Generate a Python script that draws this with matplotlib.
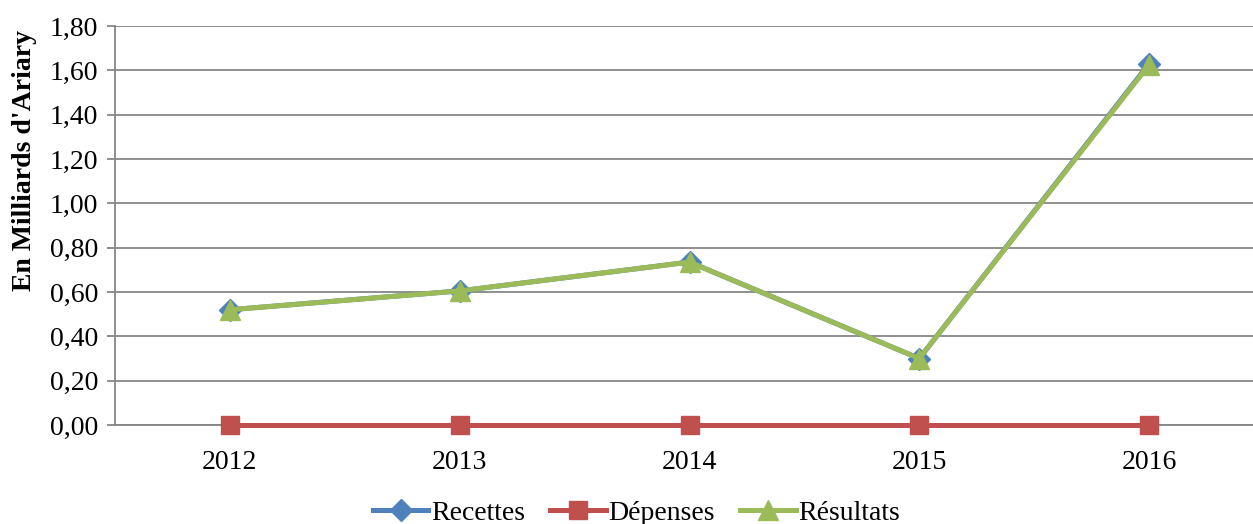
import matplotlib
matplotlib.use("Agg")
import matplotlib.pyplot as plt
from matplotlib.ticker import FuncFormatter

years = ["2012", "2013", "2014", "2015", "2016"]
recettes = [0.52, 0.605, 0.735, 0.30, 1.63]
depenses = [0.0, 0.0, 0.0, 0.0, 0.0]
resultats = [0.52, 0.605, 0.735, 0.30, 1.625]
yticks = [0.0, 0.2, 0.4, 0.6, 0.8, 1.0, 1.2, 1.4, 1.6, 1.8]

plt.rcParams['font.family'] = ['Liberation Serif', 'DejaVu Serif']

fig = plt.figure(figsize=(12.53, 5.24), dpi=100)
ax = fig.add_axes([115/1253, 99/524, 1149/1253, 399/524])

x = list(range(len(years)))
grey = '#868686'
ax.plot(x, recettes, color='#4F81BD', lw=3.6, marker='D', ms=11, label='Recettes', zorder=3, clip_on=False)
ax.plot(x, depenses, color='#C0504D', lw=3.6, marker='s', ms=13, label='Dépenses', zorder=4, clip_on=False)
ax.plot(x, resultats, color='#9BBB59', lw=3.6, marker='^', ms=15, label='Résultats', zorder=5, clip_on=False)

ax.set_xlim(-0.5, 4.5)
ax.set_ylim(0, 1.8)
ax.set_yticks(yticks)
ax.yaxis.set_major_formatter(FuncFormatter(lambda v, p: f"{v:.2f}".replace('.', ',')))
ax.set_xticks(x)
ax.set_xticklabels(years)
ax.grid(axis='y', color=grey, lw=1.3)
ax.set_axisbelow(True)
for s in ['top', 'right']:
    ax.spines[s].set_visible(False)
ax.spines['left'].set_color(grey)
ax.spines['left'].set_linewidth(1.3)
ax.spines['bottom'].set_color(grey)
ax.spines['bottom'].set_linewidth(1.3)
ax.tick_params(axis='y', length=6, width=1.3, color=grey, labelsize=20, pad=6)
ax.tick_params(axis='x', length=0, labelsize=20, pad=18)
ax.set_ylabel("En Milliards d'Ariary", fontsize=20, fontweight='bold')
ax.yaxis.set_label_coords(-0.068, 0.664)

leg = fig.legend(loc='center', bbox_to_anchor=(0.508, 11/524), ncol=3, frameon=False,
                 fontsize=20, handlelength=2.0, columnspacing=0.9, handletextpad=0.1,
                 borderaxespad=0)

fig.savefig('out.png', dpi=100)
